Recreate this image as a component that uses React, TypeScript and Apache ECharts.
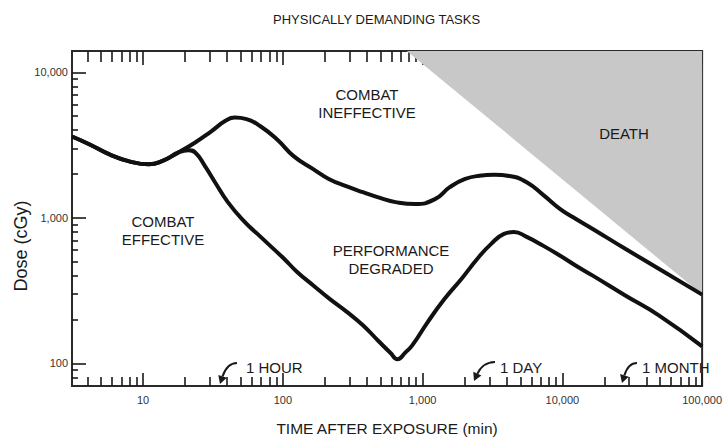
import React, { useEffect, useRef } from "react";
import * as echarts from "echarts";

const titleText = "PHYSICALLY DEMANDING TASKS";
const xName = "TIME AFTER EXPOSURE (min)";
const yName = "Dose (cGy)";

const xRange = [3.1, 100000];
const yRange = [70, 14000];

const xMajorTicks = [10, 100, 1000, 10000, 100000];
const xMinorTicks = [
  4, 5, 6, 7, 8, 9,
  20, 30, 40, 50, 60, 70, 80, 90,
  200, 300, 400, 500, 600, 700, 800, 900,
  2000, 3000, 4000, 5000, 6000, 7000, 8000, 9000,
  20000, 30000, 40000, 50000, 60000, 70000, 80000, 90000,
];
const yMajorTicks = [100, 1000, 10000];
const yMinorTicks = [
  80, 90,
  200, 300, 400, 500, 600, 700, 800, 900,
  2000, 3000, 4000, 5000, 6000, 7000, 8000, 9000,
];

// Upper curve: combat effective / ineffective boundary
const upperTime = [3.1, 4.15, 5.75, 7.96, 11.0, 14.05, 17.9, 23.6, 30.6, 39.1, 45.3, 55, 69.1, 91, 120, 166, 215, 284, 374, 502, 640, 886, 1226, 1564, 1996, 2546, 3249, 4284, 5555, 7322, 9653, 12518, 16500, 28200, 49000, 100000];
const upperDose = [3622, 3193, 2729, 2445, 2331, 2484, 2815, 3294, 3917, 4658, 4882, 4767, 4259, 3454, 2644, 2155, 1842, 1650, 1501, 1366, 1283, 1243, 1345, 1624, 1842, 1946, 1977, 1930, 1757, 1432, 1149, 982, 839, 613, 447, 297];

// Lower curve: combat effective / performance degraded boundary
const lowerTime = [3.1, 4.15, 5.75, 7.96, 11.0, 14.05, 17.9, 21.1, 23.6, 27.8, 32.7, 40.4, 53.3, 65.8, 81.3, 102, 126, 166, 215, 284, 374, 485, 590, 661, 753, 843, 1094, 1442, 1901, 2466, 3095, 3823, 4498, 5555, 7322, 9653, 12518, 16500, 28200, 49000, 100000];
const lowerDose = [3622, 3193, 2729, 2445, 2331, 2484, 2815, 2919, 2815, 2259, 1757, 1283, 937, 776, 642, 524, 427, 342, 279, 228, 183, 142, 118, 107, 119, 133, 194, 279, 382, 524, 663, 776, 800, 740, 642, 549, 469, 401, 293, 214, 131];

// Death region boundary
const deathTime = [771, 100000];
const deathDose = [14000, 297];

const FONT = "Liberation Sans";
const INK = "#1a1a1a";

const zip = (a: number[], b: number[]) => a.map((v, i) => [v, b[i]]);
const fmt = (v: number) => Math.round(v).toLocaleString("en-US");

function xAxisDef(position: "top" | "bottom", ticks: number[], len: number, labels: boolean) {
  return {
    type: "log",
    logBase: 10,
    min: xRange[0],
    max: xRange[1],
    position,
    name: labels ? xName : "",
    nameLocation: "middle",
    nameGap: 34,
    nameTextStyle: { fontFamily: FONT, fontSize: 15.5, color: INK },
    axisLine: { show: false },
    splitLine: { show: false },
    axisTick: {
      show: true,
      inside: true,
      length: len,
      customValues: ticks,
      lineStyle: { color: INK, width: 1.6 },
    },
    axisLabel: {
      show: labels,
      customValues: ticks,
      formatter: fmt,
      margin: 8,
      fontFamily: FONT,
      fontSize: 11,
      color: "#333",
    },
  };
}

function yAxisDef(ticks: number[], len: number, labels: boolean) {
  return {
    type: "log",
    logBase: 10,
    min: yRange[0],
    max: yRange[1],
    position: "left",
    axisLine: { show: false },
    splitLine: { show: false },
    axisTick: {
      show: true,
      inside: true,
      length: len,
      customValues: ticks,
      lineStyle: { color: INK, width: 1.6 },
    },
    axisLabel: {
      show: labels,
      customValues: ticks,
      formatter: fmt,
      margin: 4,
      fontFamily: FONT,
      fontSize: 11,
      color: "#333",
    },
  };
}

const regionLabels = [
  { text: "COMBAT\nINEFFECTIVE", x: 367, y: 103 },
  { text: "COMBAT\nEFFECTIVE", x: 163, y: 230 },
  { text: "PERFORMANCE\nDEGRADED", x: 391, y: 259 },
  { text: "DEATH", x: 624, y: 133 },
];

const timeMarks = [
  { text: "1 HOUR", x: 246, y: 367, sx: 237, sy: 363, tx: 220, ty: 384 },
  { text: "1 DAY", x: 500, y: 367, sx: 495, sy: 362, tx: 474, ty: 381 },
  { text: "1 MONTH", x: 642, y: 367, sx: 637, sy: 363, tx: 622, ty: 383 },
];

function arrow(sx: number, sy: number, tx: number, ty: number) {
  const dx = Math.abs(tx - sx);
  const dy = Math.abs(ty - sy);
  const cp1x = sx - 0.5 * dx, cp1y = sy;
  const cp2x = tx + 0.25 * dx, cp2y = ty - 0.6 * dy;
  let ux = tx - cp2x, uy = ty - cp2y;
  const n = Math.hypot(ux, uy) || 1;
  ux /= n; uy /= n;
  const head = 8, half = 4.5;
  const bx = tx - ux * head, by = ty - uy * head;
  const px = -uy, py = ux;
  return [
    {
      type: "bezierCurve",
      shape: { x1: sx, y1: sy, cpx1: cp1x, cpy1: cp1y, cpx2: cp2x, cpy2: cp2y, x2: bx, y2: by },
      style: { stroke: INK, lineWidth: 2, fill: null },
      z: 10,
    },
    {
      type: "polygon",
      shape: { points: [[tx, ty], [bx + px * half, by + py * half], [bx - px * half, by - py * half]] },
      style: { fill: INK },
      z: 10,
    },
  ];
}

export default function App() {
  const ref = useRef<HTMLDivElement>(null);
  useEffect(() => {
    document.body.style.margin = "0";
    const chart = echarts.init(ref.current!, null, { renderer: "svg" });
    const graphics: any[] = [];
    regionLabels.forEach((l) =>
      graphics.push({
        type: "text",
        x: l.x,
        y: l.y,
        z: 10,
        style: {
          text: l.text,
          fill: INK,
          fontFamily: FONT,
          fontSize: 15,
          lineHeight: 18,
          align: "center",
          verticalAlign: "middle",
        },
      })
    );
    timeMarks.forEach((m) => {
      graphics.push({
        type: "text",
        x: m.x,
        y: m.y,
        z: 10,
        style: {
          text: m.text,
          fill: INK,
          fontFamily: FONT,
          fontSize: 15,
          align: "left",
          verticalAlign: "middle",
        },
      });
      graphics.push(...arrow(m.sx, m.sy, m.tx, m.ty));
    });
    graphics.push({
      type: "text",
      x: 21,
      y: 246,
      rotation: Math.PI / 2,
      z: 10,
      style: {
        text: yName,
        fill: INK,
        fontFamily: FONT,
        fontSize: 18,
        align: "center",
        verticalAlign: "middle",
      },
    });

    chart.setOption({
      animation: false,
      backgroundColor: "#ffffff",
      title: {
        text: titleText,
        left: 268,
        top: 8,
        textStyle: { fontFamily: FONT, fontSize: 13, fontWeight: "normal", color: INK },
      },
      grid: {
        left: 72,
        right: 14,
        top: 51,
        bottom: 53,
        show: true,
        borderColor: "#2a2a2a",
        borderWidth: 2,
        backgroundColor: "transparent",
      },
      xAxis: [
        xAxisDef("bottom", xMajorTicks, 13, true),
        xAxisDef("bottom", xMinorTicks, 9, false),
        xAxisDef("top", xMajorTicks, 14, false),
        xAxisDef("top", xMinorTicks, 11, false),
      ],
      yAxis: [yAxisDef(yMajorTicks, 14, true), yAxisDef(yMinorTicks, 6, false)],
      series: [
        {
          type: "line",
          name: "Death",
          data: zip(deathTime, deathDose),
          showSymbol: false,
          silent: true,
          lineStyle: { width: 0 },
          areaStyle: { origin: "end", color: "#c8c8c8", opacity: 1 },
          z: 1,
        },
        {
          type: "line",
          name: "Combat ineffective threshold",
          data: zip(upperTime, upperDose),
          smooth: 0.5,
          showSymbol: false,
          lineStyle: { color: "#111", width: 4 },
          z: 3,
        },
        {
          type: "line",
          name: "Performance degraded threshold",
          data: zip(lowerTime, lowerDose),
          smooth: 0.5,
          showSymbol: false,
          lineStyle: { color: "#111", width: 4 },
          z: 3,
        },
      ],
      graphic: graphics,
    });
    return () => chart.dispose();
  }, []);
  return <div ref={ref} style={{ width: 725, height: 441 }} />;
}
